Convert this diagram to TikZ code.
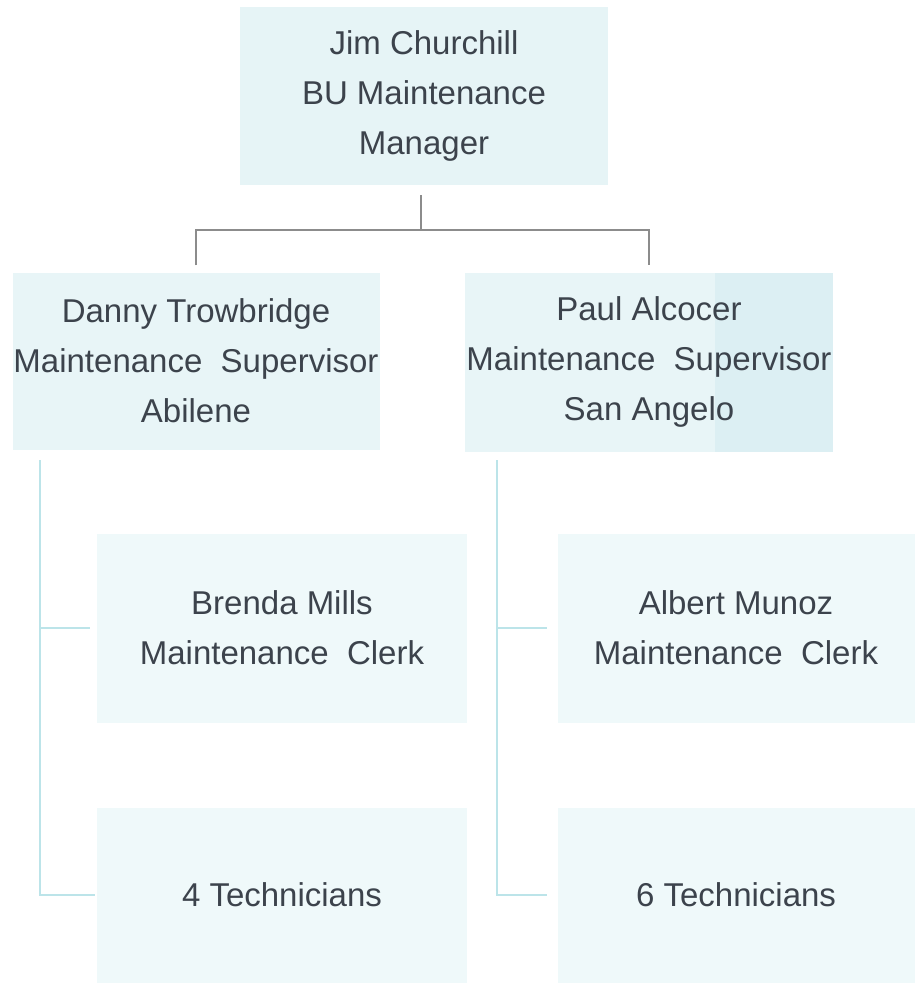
\documentclass[tikz,border=0pt]{standalone}
\usepackage{fontspec}
\setmainfont{Liberation Sans}
\definecolor{boxtop}{HTML}{E6F4F6}
\definecolor{boxsup}{HTML}{E8F5F7}
\definecolor{supdark}{HTML}{DCEFF3}
\definecolor{boxlow}{HTML}{EFF9FA}
\definecolor{txt}{HTML}{3C434C}
\definecolor{grayline}{HTML}{8C8C8C}
\definecolor{cyanline}{HTML}{BCE4E9}
\tikzset{
  orgbox/.style={rectangle, inner sep=0pt, align=center, text=txt,
    font=\fontsize{33}{50}\selectfont},
  graylink/.style={draw=grayline, line width=2pt},
  cyanlink/.style={draw=cyanline, line width=2.5pt},
}
\begin{document}
\begin{tikzpicture}[x=1pt,y=-1pt]
\useasboundingbox (0,0) rectangle (914,988);
% boxes
\node[orgbox, fill=boxtop, minimum width=368pt, minimum height=178pt] (top) at (424,96)
  {Jim Churchill\\BU Maintenance\\Manager};
\node[orgbox, fill=boxsup, minimum width=367pt, minimum height=177pt] (sup1) at (196,361)
  {Danny Trowbridge\\Maintenance\ \ Supervisor\\Abilene};
\node[orgbox, fill=boxsup, minimum width=368pt, minimum height=179pt,
  path picture={\fill[supdark] ([xshift=-118pt]path picture bounding box.north east) rectangle (path picture bounding box.south east);}] (sup2) at (649,362)
  {Paul Alcocer\\Maintenance\ \ Supervisor\\San Angelo};
\node[orgbox, fill=boxlow, minimum width=370pt, minimum height=189pt] (clerk1) at (282,628)
  {Brenda Mills\\Maintenance\ \ Clerk};
\node[orgbox, fill=boxlow, minimum width=357pt, minimum height=189pt] (clerk2) at (736,628)
  {Albert Munoz\\Maintenance\ \ Clerk};
\node[orgbox, fill=boxlow, minimum width=370pt, minimum height=175pt] (tech1) at (282,895)
  {4 Technicians};
\node[orgbox, fill=boxlow, minimum width=357pt, minimum height=175pt] (tech2) at (736,895)
  {6 Technicians};
% top connectors
\coordinate (tj) at (421,230);
\draw[graylink, shorten <=10pt] (top.south -| tj) -- (tj);
\draw[graylink, shorten <=7pt, shorten >=7pt] (sup1.north) -- (sup1.north |- tj) -- (sup2.north |- tj) -- (sup2.north);
% left branch
\coordinate (l0) at (40,460);
\draw[cyanlink, shorten >=2pt] (l0) |- (tech1.west);
\draw[cyanlink, shorten >=7pt] (l0 |- clerk1.west) -- (clerk1.west);
% right branch
\coordinate (r0) at (497,460);
\draw[cyanlink, shorten >=10pt] (r0) |- (tech2.west);
\draw[cyanlink, shorten >=10pt] (r0 |- clerk2.west) -- (clerk2.west);
\end{tikzpicture}
\end{document}
